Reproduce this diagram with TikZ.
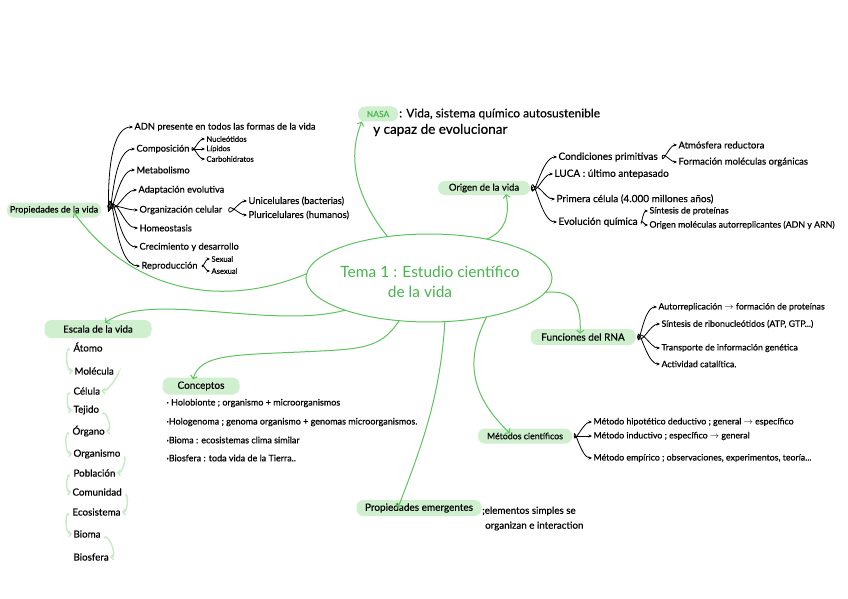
\documentclass[tikz,border=0pt]{standalone}
\usepackage{fontspec}
\setmainfont{Lato}[FakeBold=0.4]
\newfontfamily\thinfont{Lato}
\usetikzlibrary{arrows.meta,shapes.geometric}
\definecolor{lg}{HTML}{5CC45C}
\definecolor{hlg}{HTML}{CFEFCF}
\definecolor{pale}{HTML}{C6EBC6}
\definecolor{tg}{HTML}{45B64B}
\newcommand\ar{$\rightarrow$}
\begin{document}
\begin{tikzpicture}[x=1pt,y=-1pt,
  hl/.style={fill=hlg, rounded corners=7pt, inner sep=0pt, text=black},
  tx/.style={anchor=west, inner sep=0pt, outer sep=1.5pt, font=\fontsize{9.3}{10}\selectfont},
  ox/.style={anchor=west, inner sep=0pt, outer sep=1.5pt, font=\fontsize{10}{11}\selectfont},
  sm/.style={anchor=west, inner sep=0pt, outer sep=1.5pt, font=\fontsize{8.8}{10}\selectfont},
  sx/.style={anchor=west, inner sep=0pt, outer sep=1.5pt, font=\fontsize{7.6}{8}\selectfont},
  ex/.style={anchor=west, inner sep=0pt, outer sep=1.5pt, font=\fontsize{9.8}{11}\selectfont},
  br/.style={draw=black, line width=0.8pt, -{Stealth[length=3.5pt,width=3pt]}},
  gr/.style={draw=lg, line width=1pt, -{Straight Barb[length=3pt,width=7pt]}},
  pl/.style={draw=pale, line width=1.4pt, -{Straight Barb[length=2.5pt,width=6pt]}},
]
\useasboundingbox (0,0) rectangle (848,599);
\fill[white] (0,0) rectangle (848,599);

% central ellipse
\node[draw=lg, line width=1pt, ellipse, minimum width=246pt, minimum height=88pt, inner sep=0pt, outer sep=0pt] (tema) at (429,278) {};
\node[inner sep=0pt, text=tg, font=\thinfont\fontsize{15.5}{17}\selectfont] (t1) at (430,272) {Tema 1 : Estudio científico};
\node[inner sep=0pt, text=tg, font=\thinfont\fontsize{15.5}{17}\selectfont] (t2) at (420,292) {de la vida};

% NASA
\node[hl, minimum width=40pt, minimum height=15pt, text=tg, font=\fontsize{8.5}{10}\selectfont] (nasa) at (378,114) {NASA};
\node[anchor=west, inner sep=0pt, font=\fontsize{12}{13}\selectfont] (nasa1) at (399,114) {: Vida, sistema químico autosustenible};
\node[anchor=west, inner sep=0pt, font=\fontsize{13.5}{15}\selectfont] (nasa2) at (373,130) {y capaz de evolucionar};

% Propiedades de la vida
\node[hl, minimum width=94pt, minimum height=15pt, font=\fontsize{9}{10}\selectfont] (prop) at (54,210) {Propiedades de la vida};
\coordinate (pf) at (108,206);
\node[tx] (adn) at (133,127) {ADN presente en todos las formas de la vida};
\node[tx] (comp) at (135,149) {Composición};
\node[sx] (nuc) at (205,139) {Nucleótidos};
\node[sx] (lip) at (205,149) {Lípidos};
\node[sx] (carb) at (205,159) {Carbohidratos};
\node[tx] (meta) at (135,170) {Metabolismo};
\node[tx] (adap) at (137,190) {Adaptación evolutiva};
\node[tx] (org) at (138,210) {Organización celular};
\node[sm, font=\fontsize{9.5}{10}\selectfont] (uni) at (247,201) {Unicelulares (bacterias)};
\node[sm, font=\fontsize{9.5}{10}\selectfont] (pluri) at (247,215) {Pluricelulares (humanos)};
\node[tx] (homeo) at (138,228) {Homeostasis};
\node[tx] (crec) at (138,247) {Crecimiento y desarrollo};
\node[tx] (repro) at (140,266) {Reproducción};
\node[sx] (sex) at (210,259) {Sexual};
\node[sx] (asex) at (210,271) {Asexual};

\draw[br] (pf) to[out=-85,in=180] (adn.west);
\draw[br] (pf) to[out=-80,in=180] (comp.west);
\draw[br] (pf) to[out=-75,in=180] (meta.west);
\draw[br] (pf) to[out=-55,in=180] (adap.west);
\draw[br] (pf) to[out=5,in=180] (org.west);
\draw[br] (pf) to[out=50,in=180] (homeo.west);
\draw[br] (pf) to[out=70,in=180] (crec.west);
\draw[br] (pf) to[out=78,in=180] (repro.west);

\coordinate (cb) at ([xshift=1]comp.east);
\draw[br] (cb) to[out=-90,in=180] (nuc.west);
\draw[br] (cb) -- (lip.west);
\draw[br] (cb) to[out=90,in=180] (carb.west);
\coordinate (ob) at ([xshift=5]org.east);
\draw[br] (ob) to[out=-90,in=180] (uni.west);
\draw[br] (ob) to[out=90,in=180] (pluri.west);
\coordinate (rb) at ([xshift=3]repro.east);
\draw[br] (rb) to[out=-90,in=180] (sex.west);
\draw[br] (rb) to[out=90,in=180] (asex.west);

% Origen de la vida
\node[hl, minimum width=92pt, minimum height=14pt, font=\fontsize{9.5}{10}\selectfont] (origen) at (484,188) {Origen de la vida};
\coordinate (of) at ([xshift=1]origen.east);
\node[ox] (cond) at (557,157) {Condiciones primitivas};
\node[sm, font=\fontsize{9.5}{10}\selectfont] (atm) at (677,145) {Atmósfera reductora};
\node[sm, font=\fontsize{9.5}{10}\selectfont] (form) at (677,162) {Formación moléculas orgánicas};
\node[ox] (luca) at (553,174) {LUCA : último antepasado};
\node[ox] (prim) at (555,199) {Primera célula (4.000 millones años)};
\node[ox] (evol) at (557,222) {Evolución química};
\node[sm] (sint) at (648,211) {Síntesis de proteínas};
\node[sm] (origm) at (648,225) {Origen moléculas autorreplicantes (ADN y ARN)};
\draw[br] (of) to[out=-80,in=180] (cond.west);
\draw[br] (of) to[out=-60,in=180] (luca.west);
\draw[br] (of) to[out=40,in=180] (prim.west);
\draw[br] (of) to[out=80,in=180] (evol.west);
\coordinate (cdb) at ([xshift=3]cond.east);
\draw[br] (cdb) to[out=-90,in=180] (atm.west);
\draw[br] (cdb) to[out=90,in=180] (form.west);
\coordinate (evb) at ([xshift=2]evol.east);
\draw[br] (evb) to[out=-90,in=180] (sint.west);
\draw[br] (evb) to[out=90,in=180] (origm.west);

% Funciones del RNA
\node[hl, minimum width=105pt, minimum height=16pt, font=\fontsize{10}{12}\selectfont] (func) at (583,337) {Funciones del RNA};
\coordinate (ff) at ([xshift=2]func.east);
\node[sm] (auto) at (657,307) {Autorreplicación \ar{} formación de proteínas};
\node[sm] (sintr) at (660,324) {Síntesis de ribonucleótidos (ATP, GTP...)};
\node[sm] (trans) at (660,348) {Transporte de información genética};
\node[sm] (activ) at (660,364) {Actividad catalítica.};
\draw[br] (ff) to[out=-85,in=180] (auto.west);
\draw[br] (ff) to[out=-70,in=180] (sintr.west);
\draw[br] (ff) to[out=60,in=180] (trans.west);
\draw[br] (ff) to[out=85,in=180] (activ.west);

% Metodos cientificos
\node[hl, minimum width=94pt, minimum height=15pt, font=\fontsize{8.8}{10}\selectfont] (met) at (525,436) {Métodos científicos};
\coordinate (mf) at ([xshift=2]met.east);
\node[sm] (m1) at (592,422) {Método hipotético deductivo ; general \ar{} específico};
\node[sm] (m2) at (592,436) {Método inductivo ; específico \ar{} general};
\node[sm] (m3) at (592,458) {Método empírico ; observaciones, experimentos, teoría...};
\draw[br] (mf) to[out=-90,in=180] (m1.west);
\draw[br] (mf) -- (m2.west);
\draw[br] (mf) to[out=90,in=180] (m3.west);

% Conceptos
\node[hl, minimum width=77pt, minimum height=17pt, font=\fontsize{10}{12}\selectfont] (conc) at (201,386) {Conceptos};
\node[sm, font=\fontsize{9}{10}\selectfont] (c1) at (165,403) {· Holobionte ; organismo + microorganismos};
\node[sm, font=\fontsize{9}{10}\selectfont] (c2) at (165,422) {·Hologenoma ; genoma organismo + genomas microorganismos.};
\node[sm, font=\fontsize{9}{10}\selectfont] (c3) at (165,440) {·Bioma : ecosistemas clima similar};
\node[sm, font=\fontsize{9}{10}\selectfont] (c4) at (165,458) {·Biosfera : toda vida de la Tierra..};

% Escala de la vida
\node[hl, minimum width=107pt, minimum height=18pt, font=\fontsize{9.8}{11}\selectfont] (esc) at (98,329) {Escala de la vida};
\node[ex] (e1) at (72,347) {Átomo};
\node[ex] (e2) at (73,371) {Molécula};
\node[ex] (e3) at (72,391) {Célula};
\node[ex] (e4) at (72,410) {Tejido};
\node[ex] (e5) at (71,431) {Órgano};
\node[ex] (e6) at (72,454) {Organismo};
\node[ex] (e7) at (72,473) {Población};
\node[ex] (e8) at (71,492) {Comunidad};
\node[ex] (e9) at (71,512) {Ecosistema};
\node[ex] (e10) at (72,534) {Bioma};
\node[ex] (e11) at (72,557) {Biosfera};
\draw[pl] ([shift={(-2,3)}]e1.west) to[out=120,in=180] (e2.west);
\draw[pl] ([shift={(2,4)}]e2.east) to[out=60,in=0] (e3.east);
\draw[pl] ([shift={(-2,3)}]e3.west) to[out=120,in=180] (e4.west);
\draw[pl] ([shift={(2,4)}]e4.east) to[out=60,in=0] (e5.east);
\draw[pl] ([shift={(-2,3)}]e5.west) to[out=120,in=180] (e6.west);
\draw[pl] ([shift={(2,4)}]e6.east) to[out=60,in=0] (e7.east);
\draw[pl] ([shift={(-2,3)}]e7.west) to[out=120,in=180] (e8.west);
\draw[pl] ([shift={(2,4)}]e8.east) to[out=60,in=0] (e9.east);
\draw[pl] ([shift={(-2,3)}]e9.west) to[out=120,in=180] (e10.west);
\draw[pl] ([shift={(2,4)}]e10.east) to[out=60,in=0] (e11.east);

% Propiedades emergentes
\node[hl, minimum width=125pt, minimum height=16pt, font=\fontsize{10}{12}\selectfont] (emer) at (419,508) {Propiedades emergentes};
\node[anchor=west, inner sep=0pt, font=\fontsize{9.8}{11}\selectfont] (em1) at (482,511) {;elementos simples se};
\node[anchor=west, inner sep=0pt, font=\fontsize{9.8}{11}\selectfont] (em2) at (485,526) {organizan e interaction};

% green connectors from the centre
\draw[gr] (tema.135) .. controls (350,190) and (350,150) .. ([xshift=4]nasa.south west);
\draw[gr] (tema.34) .. controls (505,232) and (510,215) .. ([xshift=22,yshift=1]origen.south);
\draw[gr] (tema.-7) .. controls (570,290) and (582,300) .. ([xshift=-3,yshift=-5]func.north);
\draw[gr] (tema.-34) .. controls (465,360) and (470,395) .. ([xshift=-15,yshift=-5]met.north);
\draw[gr] (tema.-70) .. controls (440,400) and (420,450) .. ([xshift=-21,yshift=-8]emer.north);
\draw[gr] (tema.235) .. controls (380,350) and (360,349) .. (300,352) .. controls (230,355) and (200,355) .. ([xshift=-8,yshift=-2]conc.north);
\draw[gr] (tema.201) .. controls (270,330) and (150,290) .. ([xshift=7,yshift=-3]esc.north);
\draw[gr] (tema.178) .. controls (220,310) and (130,290) .. ([xshift=20,yshift=5]prop.south);
\end{tikzpicture}
\end{document}
